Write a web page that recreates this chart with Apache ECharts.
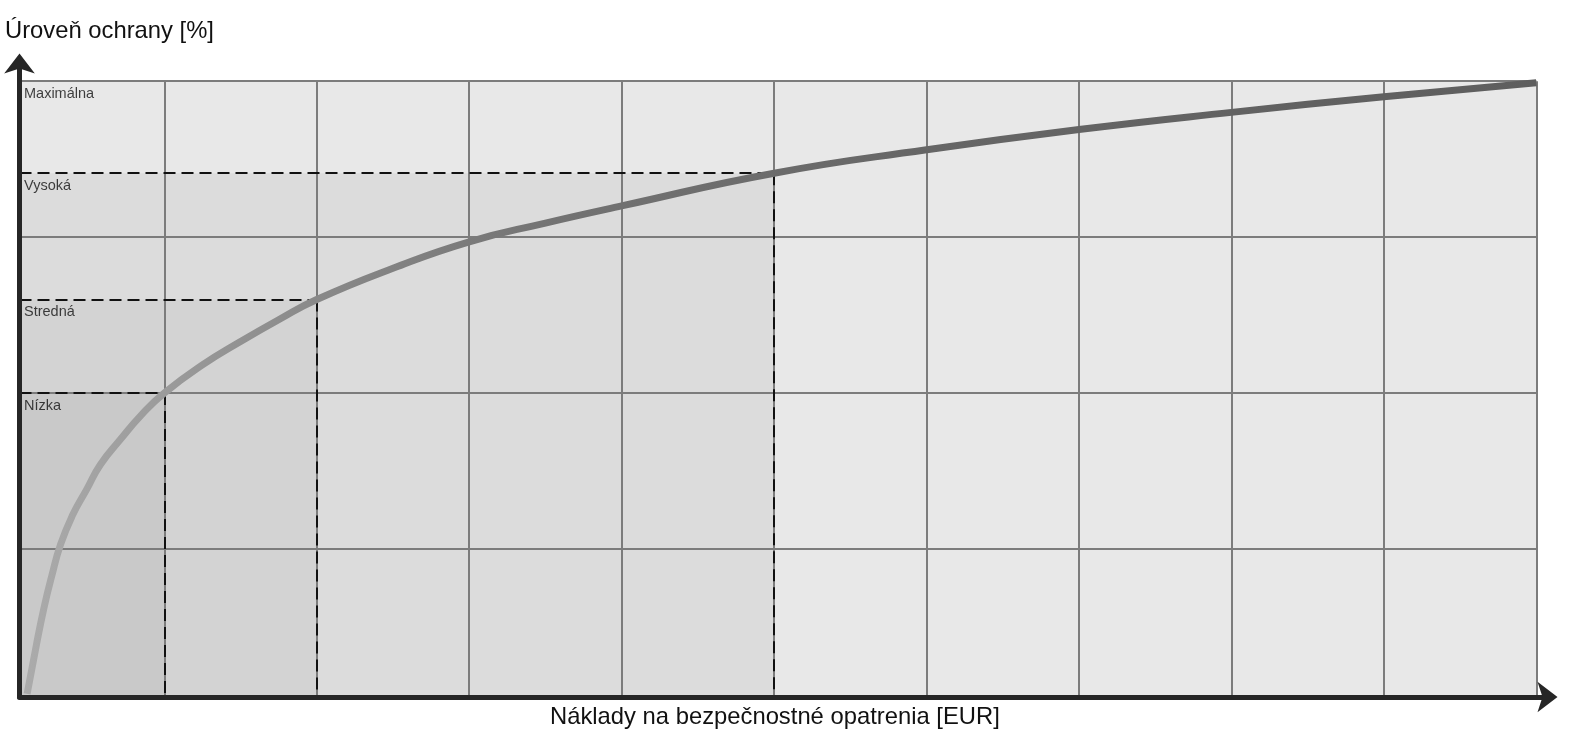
<!DOCTYPE html>
<html>
<head>
<meta charset="utf-8">
<script src="https://cdn.jsdelivr.net/npm/echarts@6/dist/echarts.min.js"></script>
<style>
  html, body { margin: 0; padding: 0; background: #fff; }
  #chart { width: 1569px; height: 735px; }
</style>
</head>
<body>
<div id="chart"></div>
<script>
// x: náklady (1 jednotka = 1 stĺpec mriežky), y: úroveň ochrany (1 jednotka = 1 riadok)
const xMin = 0.05, xMax = 10.08, xEnd = 10
const yMin = 0.05, yMax = 4.12, yEnd = 4

const gridCols = [1, 2, 3, 4, 5, 6, 7, 8, 9, 10]
const gridRows = [1, 2, 3, 4]

// krivka odčítaná z obrázka
const curveX = [0.10, 0.16, 0.21, 0.26, 0.32, 0.40, 0.49, 0.58, 0.71, 0.85, 1.0, 1.25, 1.5, 1.75, 2.0, 2.5, 3.0, 3.5, 4.0, 5.0, 6.0, 7.0, 8.0, 9.0, 10.0]
const curveY = [0.07, 0.38, 0.62, 0.82, 1.03, 1.22, 1.38, 1.54, 1.70, 1.86, 2.0, 2.18, 2.33, 2.47, 2.6, 2.80, 2.97, 3.09, 3.20, 3.41, 3.56, 3.69, 3.80, 3.90, 3.99]

// úrovne ochrany a zodpovedajúce náklady
const levelNames = ['Nízka', 'Stredná', 'Vysoká', 'Maximálna']
const levelY = [2.0, 2.6, 3.41, 4.0]
const levelX = [1, 2, 5]

const levelColors = ['#dcdcdc', '#d3d3d3', '#c9c9c9']

const chart = echarts.init(document.getElementById('chart'))

const gridLines = []
gridCols.forEach(c => gridLines.push([{ coord: [c, yMin] }, { coord: [c, yEnd] }]))
gridRows.forEach(r => gridLines.push([{ coord: [xMin, r] }, { coord: [xEnd, r] }]))

const dashLines = []
levelX.forEach((x, i) => {
  dashLines.push([{ coord: [xMin, levelY[i]] }, { coord: [x, levelY[i]] }])
  dashLines.push([{ coord: [x, levelY[i]] }, { coord: [x, yMin] }])
})

// oblasti: od najväčšej po najmenšiu
const areas = [[{ coord: [xMin, yMin], itemStyle: { color: '#e8e8e8' } }, { coord: [xEnd, yEnd] }]]
for (let i = levelX.length - 1; i >= 0; i--) {
  areas.push([{ coord: [xMin, yMin], itemStyle: { color: levelColors[levelX.length - 1 - i] } }, { coord: [levelX[i], levelY[i]] }])
}

const axisLineStyle = {
  show: true,
  onZero: false,
  symbol: ['none', 'arrow'],
  symbolSize: [23, 20],
  symbolOffset: [0, 9],
  lineStyle: { color: '#262626', width: 5 }
}

const textFont = { fontFamily: 'Liberation Sans', fontSize: 23.8, fontWeight: 'normal', color: '#111' }

chart.setOption({
  animation: false,
  backgroundColor: '#ffffff',
  title: [
    { text: 'Úroveň ochrany [%]', left: 5, top: 19, padding: 0, textStyle: textFont },
    { text: 'Náklady na bezpečnostné opatrenia [EUR]', left: 550, top: 705, padding: 0, textStyle: textFont }
  ],
  grid: { left: 19.5, right: 20.5, top: 62.5, bottom: 38, containLabel: false },
  xAxis: {
    type: 'value', min: xMin, max: xMax, z: 10,
    axisLine: axisLineStyle,
    axisTick: { show: false }, axisLabel: { show: false }, splitLine: { show: false }
  },
  yAxis: {
    type: 'value', min: yMin, max: yMax, z: 10,
    axisLine: axisLineStyle,
    axisTick: { show: false }, axisLabel: { show: false }, splitLine: { show: false }
  },
  series: [
    {
      type: 'line', data: [], z: 1, silent: true,
      markArea: { silent: true, data: areas }
    },
    {
      type: 'line', data: [], z: 2, silent: true,
      markLine: {
        silent: true, symbol: ['none', 'none'], label: { show: false },
        lineStyle: { color: '#7c7c7c', width: 2, type: 'solid' },
        data: gridLines
      }
    },
    {
      type: 'line', data: [], z: 3, silent: true,
      markLine: {
        silent: true, symbol: ['none', 'none'], label: { show: false },
        lineStyle: { color: '#111111', width: 2, type: [12, 6] },
        data: dashLines
      }
    },
    {
      type: 'scatter', z: 4, silent: true,
      symbolSize: 0,
      data: levelNames.map((n, i) => ({ value: [xMin, levelY[i]], name: n })),
      label: {
        show: true, position: 'right', distance: 4.5, offset: [0, 13],
        formatter: p => p.name,
        fontFamily: 'Liberation Sans', fontSize: 14.5, color: '#111'
      }
    },
    {
      type: 'line', z: 5, silent: true,
      smooth: 0.5,
      showSymbol: false,
      data: curveX.map((x, i) => [x, curveY[i]]),
      lineStyle: {
        width: 7,
        color: new echarts.graphic.LinearGradient(0, 0, 1, 0, [
          { offset: 0, color: '#ababab' },
          { offset: 0.08, color: '#9d9d9d' },
          { offset: 0.2, color: '#888888' },
          { offset: 0.35, color: '#737373' },
          { offset: 0.6, color: '#666666' },
          { offset: 1, color: '#5e5e5e' }
        ])
      }
    }
  ]
})
</script>
</body>
</html>
